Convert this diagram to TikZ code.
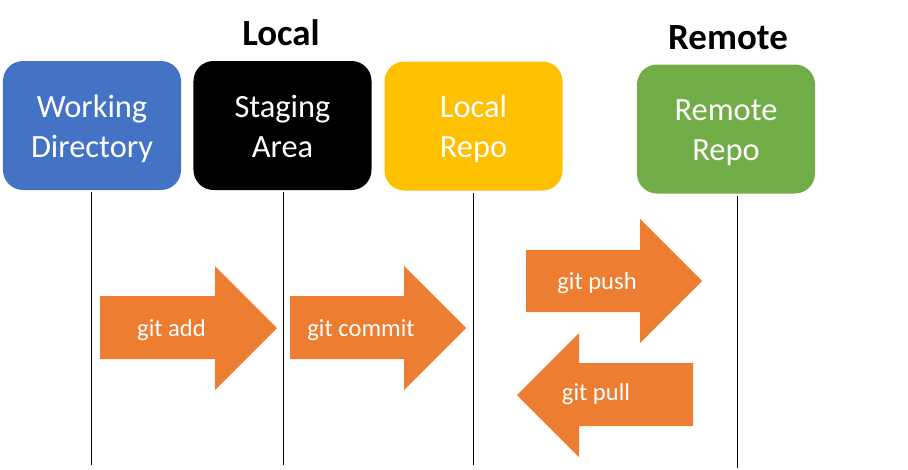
\documentclass[tikz,border=0pt]{standalone}
\usepackage{fontspec}
\setmainfont{Carlito}
\usetikzlibrary{positioning}
\definecolor{wdblue}{HTML}{4472C4}
\definecolor{repogold}{HTML}{FFC000}
\definecolor{remotegreen}{HTML}{70AD47}
\definecolor{floworange}{HTML}{ED7D31}
\newcommand{\repostrut}{\rule[-6.85pt]{0pt}{34.1pt}}
\tikzstyle{repo} = [rectangle, rounded corners=0.6cm, minimum width=5.34cm, minimum height=3.87cm, inner sep=0pt, text=white, align=center, font=\fontsize{27.7}{34.1}\selectfont]
\tikzstyle{title} = [anchor=base, font=\fontsize{31.5}{36}\selectfont\bfseries]
\tikzstyle{flowtext} = [anchor=base, text=white, inner sep=0pt, font=\fontsize{21}{25}\selectfont]
\tikzstyle{flow} = [fill=floworange]
\tikzstyle{lifeline} = [line width=0.8pt]

\begin{document}
\begin{tikzpicture}[x=0.03cm, y=-0.03cm]
\useasboundingbox (0,0) rectangle (908,469);
% titles
\node[title] (local) at (281,45) {Local};
\node[title] (remote) at (728,49) {Remote};
% the four areas
\node (wd) at (92,125.5) [repo, fill=wdblue] {\repostrut Working\\\repostrut Directory};
\node (stage) at (282.5,125.5) [repo, fill=black] {\repostrut Staging\\\repostrut Area};
\node (lrepo) at (473.5,126) [repo, fill=repogold] {\repostrut Local\\\repostrut Repo};
\node (rrepo) at (726,129) [repo, fill=remotegreen] {\repostrut Remote\\\repostrut Repo};
% lifelines
\coordinate (wdend) at (91,465);
\coordinate (stageend) at (283,465);
\coordinate (lrepoend) at (473,465);
\coordinate (rrepoend) at (737,468);
\draw[lifeline] (wd.south -| wdend) ++(0,2) -- (wdend);
\draw[lifeline] (stage.south -| stageend) ++(0,2) -- (stageend);
\draw[lifeline] (lrepo.south -| lrepoend) ++(0,2) -- (lrepoend);
\draw[lifeline] (rrepo.south -| rrepoend) ++(0,2) -- (rrepoend);
% commands
\fill[flow] (100,296) -- (215,296) -- (215,266) -- (277,328) -- (215,390) -- (215,359) -- (100,359) -- cycle;
\fill[flow] (290,296) -- (404,296) -- (404,266) -- (466,328) -- (404,390) -- (404,359) -- (290,359) -- cycle;
\fill[flow] (526,250) -- (640,250) -- (640,219) -- (702,281) -- (640,343) -- (640,312) -- (526,312) -- cycle;
\fill[flow] (693,363) -- (579,363) -- (579,333) -- (517,395) -- (579,457) -- (579,426) -- (693,426) -- cycle;
\node[flowtext] (add) at (171.5,336) {git add};
\node[flowtext] (commit) at (361,336) {git commit};
\node[flowtext] (push) at (597,289) {git push};
\node[flowtext] (pull) at (596,400) {git pull};
\end{tikzpicture}
\end{document}
